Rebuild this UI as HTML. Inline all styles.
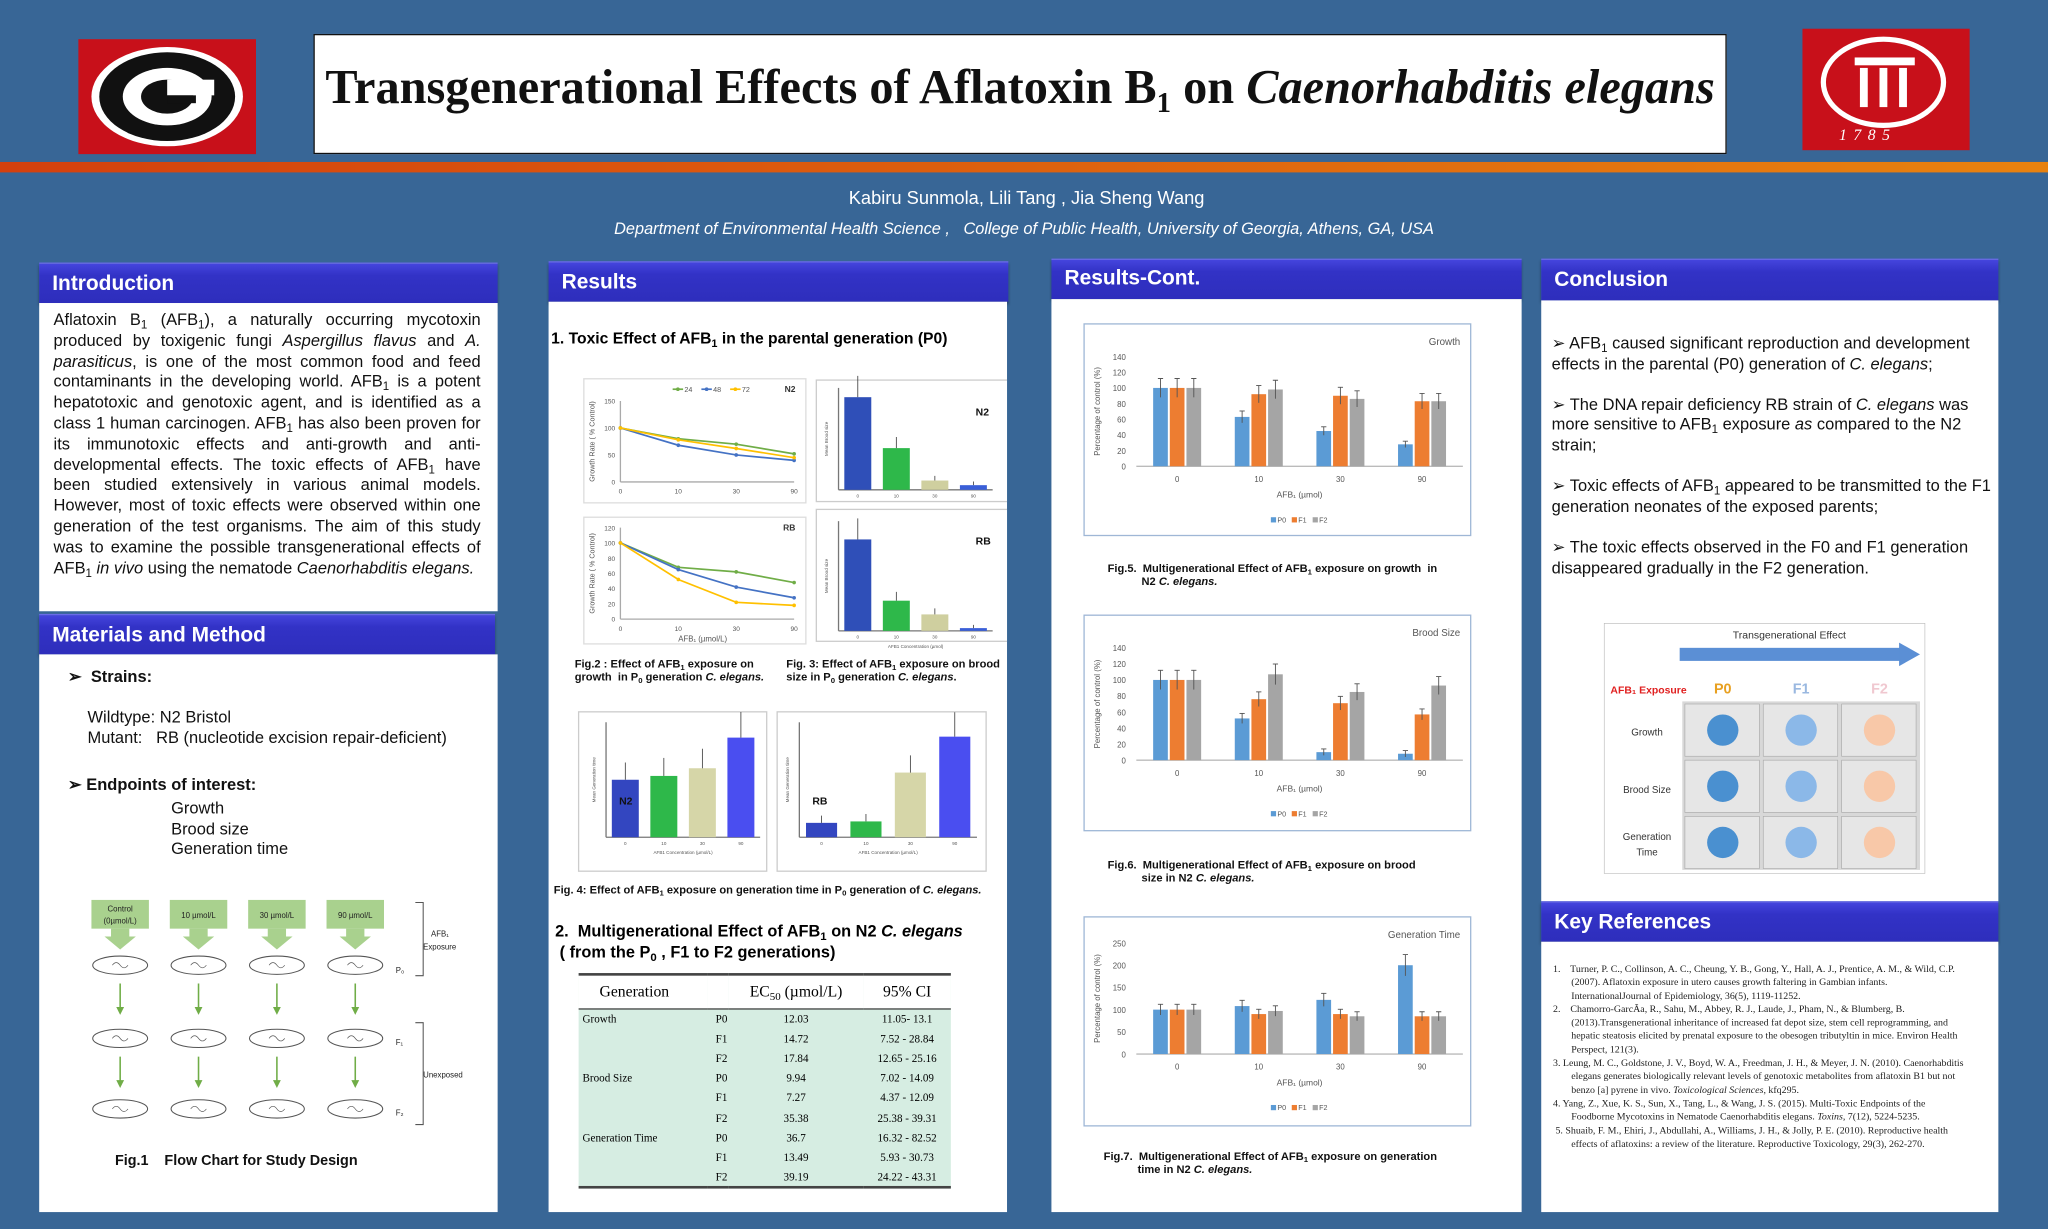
<!DOCTYPE html>
<html><head><meta charset="utf-8">
<style>
html,body{margin:0;padding:0;width:2048px;height:1229px;overflow:hidden;background:#386696;}
#poster{position:absolute;left:0;top:0;width:1568px;height:941px;transform:scale(1.306122);transform-origin:0 0;background:#386696;font-family:"Liberation Sans",sans-serif;}
.abs{position:absolute;}
sub{font-size:0.7em;line-height:0;vertical-align:-0.3em;}
.hdr{position:absolute;background:linear-gradient(#4545dd,#3232c6 30%,#2e2ebc);color:#fff;font-weight:bold;font-size:16px;padding-left:10px;box-sizing:border-box;border-top:1px solid #6a6ae8;box-shadow:0 2px 2px rgba(0,0,0,.35);}
.panel{position:absolute;background:#fff;}
.txt{font-size:12.6px;line-height:15.8px;color:#111;}
.cap{font-size:8.5px;font-weight:bold;color:#111;}
.bul{font-size:12.6px;line-height:15.6px;color:#111;}
table{border-collapse:collapse;}
</style></head>
<body>
<div id="poster">
 <div class="abs" style="left:60px;top:30px;width:136px;height:88px;background:#c8101a;">
  <div style="position:absolute;left:10px;top:6px;width:116px;height:76px;border-radius:50%;background:#fff;"></div>
  <div style="position:absolute;left:16px;top:10px;width:104px;height:68px;border-radius:50%;background:#111;"></div>
  <div style="position:absolute;left:34px;top:22px;width:68px;height:44px;border-radius:50%;background:#fff;"></div>
  <div style="position:absolute;left:48px;top:31px;width:40px;height:26px;border-radius:50%;background:#111;"></div>
  <div style="position:absolute;left:68px;top:31px;width:36px;height:12px;background:#fff;"></div>
  <div style="position:absolute;left:68px;top:43px;width:22px;height:6px;background:#111;"></div>
 </div>
 <div class="abs" style="left:240px;top:26px;width:1082px;height:92px;background:#fff;border:1.5px solid #111;box-sizing:border-box;text-align:center;">
  <div style="font-family:'Liberation Serif',serif;font-weight:bold;font-size:37px;line-height:82px;color:#111;white-space:nowrap;">Transgenerational Effects of Aflatoxin B<sub style="font-size:22px">1</sub> on <i>Caenorhabditis elegans</i></div>
 </div>
 <div class="abs" style="left:1380px;top:22px;width:128px;height:93px;background:#c8101a;">
  <div style="position:absolute;left:14px;top:6px;width:96px;height:70px;border-radius:50%;border:4px solid #fff;box-sizing:border-box;"></div>
  <div style="position:absolute;left:40px;top:22px;width:46px;height:6px;background:#fff;"></div>
  <div style="position:absolute;left:44px;top:30px;width:6px;height:30px;background:#fff;"></div>
  <div style="position:absolute;left:59px;top:30px;width:6px;height:30px;background:#fff;"></div>
  <div style="position:absolute;left:74px;top:30px;width:6px;height:30px;background:#fff;"></div>
  <div style="position:absolute;left:28px;top:74px;width:80px;color:#fff;font-family:'Liberation Serif',serif;font-style:italic;font-size:12px;letter-spacing:5px;">1785</div>
 </div>
 <div class="abs" style="left:0;top:124px;width:1568px;height:8px;background:linear-gradient(90deg,#d4400e,#e8820f);"></div>
 <div class="abs" style="left:0;top:143px;width:1572px;text-align:center;color:#fff;font-size:14px;">Kabiru Sunmola, Lili Tang , Jia Sheng Wang</div>
 <div class="abs" style="left:0;top:168px;width:1568px;text-align:center;color:#fff;font-size:12.5px;font-style:italic;">Department of Environmental Health Science ,&nbsp;&nbsp; College of Public Health, University of Georgia, Athens, GA, USA</div>

 <!-- Column 1 -->
 <div class="hdr" style="left:30px;top:201px;width:351px;height:31px;line-height:31px;">Introduction</div>
 <div class="panel" style="left:30px;top:232px;width:351px;height:236px;">
  <div class="txt" style="position:absolute;left:11px;top:6px;width:327px;text-align:justify;">Aflatoxin B<sub>1</sub> (AFB<sub>1</sub>), a naturally occurring mycotoxin produced by toxigenic fungi <i>Aspergillus flavus</i> and <i>A. parasiticus</i>, is one of the most common food and feed contaminants in the developing world. AFB<sub>1</sub> is a potent hepatotoxic and genotoxic agent, and is identified as a class 1 human carcinogen. AFB<sub>1</sub> has also been proven for its immunotoxic effects and anti-growth and anti-developmental effects. The toxic effects of AFB<sub>1</sub> have been studied extensively in various animal models. However, most of toxic effects were observed within one generation of the test organisms. The aim of this study was to examine the possible transgenerational effects of AFB<sub>1</sub> <i>in vivo</i> using the nematode <i>Caenorhabditis elegans.</i></div>
 </div>
 <div class="hdr" style="left:30px;top:470px;width:349px;height:31px;line-height:31px;">Materials and Method</div>
 <div class="panel" style="left:30px;top:501px;width:351px;height:427px;">
  <div class="bul" style="position:absolute;left:22px;top:10px;font-weight:bold;">➢&nbsp; Strains:</div>
  <div class="bul" style="position:absolute;left:37px;top:41px;">Wildtype: N2 Bristol<br>Mutant:&nbsp;&nbsp; RB (nucleotide excision repair-deficient)</div>
  <div class="bul" style="position:absolute;left:22px;top:93px;font-weight:bold;">➢ Endpoints of interest:</div>
  <div class="bul" style="position:absolute;left:101px;top:111px;">Growth<br>Brood size<br>Generation time</div>
  <svg id="flow" style="position:absolute;left:0;top:180px;" width="351" height="220"></svg>
  <div class="cap" style="position:absolute;left:58px;top:382px;font-size:11px;">Fig.1&nbsp;&nbsp;&nbsp;&nbsp;Flow Chart for Study Design</div>
 </div>

 <!-- Column 2 -->
 <div class="hdr" style="left:420px;top:200px;width:352px;height:31px;line-height:31px;">Results</div>
 <div class="panel" style="left:420px;top:231px;width:351px;height:697px;">
  <div style="position:absolute;left:2px;top:21px;font-size:12px;font-weight:bold;">1. Toxic Effect of AFB<sub>1</sub> in the parental generation (P0)</div>
  <svg id="c2" style="position:absolute;left:0;top:0;" width="351" height="697"></svg>
  <div class="cap" style="position:absolute;left:20px;top:272px;width:160px;">Fig.2 : Effect of AFB<sub>1</sub> exposure on growth&nbsp; in P<sub>0</sub> generation <i>C. elegans.</i></div>
  <div class="cap" style="position:absolute;left:182px;top:272px;width:168px;">Fig. 3: Effect of AFB<sub>1</sub> exposure on brood size in P<sub>0</sub> generation <i>C. elegans</i>.</div>
  <div class="cap" style="position:absolute;left:4px;top:445px;">Fig. 4: Effect of AFB<sub>1</sub> exposure on generation time in P<sub>0</sub> generation of <i>C. elegans.</i></div>
  <div style="position:absolute;left:5px;top:474px;font-size:12.5px;font-weight:bold;line-height:16px;">2.&nbsp; Multigenerational Effect of AFB<sub>1</sub> on N2 <i>C. elegans</i><br>&nbsp;( from the P<sub>0</sub> , F1 to F2 generations)</div>
  <table style="position:absolute;left:23px;top:514px;width:285px;font-family:'Liberation Serif',serif;font-size:8.5px;background:#d6ede2;">
   <tr style="height:26px;background:#fff;border-top:2px solid #444;border-bottom:1px solid #444;font-size:12px;"><td style="padding-left:16px">Generation</td><td></td><td style="text-align:center">EC<sub>50</sub> (µmol/L)</td><td style="text-align:center">95% CI</td></tr>
   <tr style="height:15.2px"><td style="padding-left:3px">Growth</td><td style="text-align:right">P0</td><td style="text-align:center">12.03</td><td style="text-align:center">11.05- 13.1</td></tr>
   <tr style="height:15.2px"><td></td><td style="text-align:right">F1</td><td style="text-align:center">14.72</td><td style="text-align:center">7.52 - 28.84</td></tr>
   <tr style="height:15.2px"><td></td><td style="text-align:right">F2</td><td style="text-align:center">17.84</td><td style="text-align:center">12.65 - 25.16</td></tr>
   <tr style="height:15.2px"><td style="padding-left:3px">Brood Size</td><td style="text-align:right">P0</td><td style="text-align:center">9.94</td><td style="text-align:center">7.02 - 14.09</td></tr>
   <tr style="height:15.2px"><td></td><td style="text-align:right">F1</td><td style="text-align:center">7.27</td><td style="text-align:center">4.37 - 12.09</td></tr>
   <tr style="height:15.2px"><td></td><td style="text-align:right">F2</td><td style="text-align:center">35.38</td><td style="text-align:center">25.38 - 39.31</td></tr>
   <tr style="height:15.2px"><td style="padding-left:3px">Generation Time</td><td style="text-align:right">P0</td><td style="text-align:center">36.7</td><td style="text-align:center">16.32 - 82.52</td></tr>
   <tr style="height:15.2px"><td></td><td style="text-align:right">F1</td><td style="text-align:center">13.49</td><td style="text-align:center">5.93 - 30.73</td></tr>
   <tr style="height:15.2px;border-bottom:2px solid #444;"><td></td><td style="text-align:right">F2</td><td style="text-align:center">39.19</td><td style="text-align:center">24.22 - 43.31</td></tr>
  </table>
 </div>

 <!-- Column 3 -->
 <div class="hdr" style="left:805px;top:198px;width:360px;height:31px;line-height:30px;">Results-Cont.</div>
 <div class="panel" style="left:805px;top:229px;width:360px;height:699px;">
  <svg id="c3" style="position:absolute;left:0;top:0;" width="360" height="699"></svg>
  <div class="cap" style="position:absolute;left:43px;top:201px;">Fig.5.&nbsp; Multigenerational Effect of AFB<sub>1</sub> exposure on growth&nbsp; in<br>&nbsp;&nbsp;&nbsp;&nbsp;&nbsp;&nbsp;&nbsp;&nbsp;&nbsp;&nbsp; N2 <i>C. elegans.</i></div>
  <div class="cap" style="position:absolute;left:43px;top:428px;">Fig.6.&nbsp; Multigenerational Effect of AFB<sub>1</sub> exposure on brood<br>&nbsp;&nbsp;&nbsp;&nbsp;&nbsp;&nbsp;&nbsp;&nbsp;&nbsp;&nbsp; size in N2 <i>C. elegans.</i></div>
  <div class="cap" style="position:absolute;left:40px;top:651px;">Fig.7.&nbsp; Multigenerational Effect of AFB<sub>1</sub> exposure on generation<br>&nbsp;&nbsp;&nbsp;&nbsp;&nbsp;&nbsp;&nbsp;&nbsp;&nbsp;&nbsp; time in N2 <i>C. elegans.</i></div>
 </div>

 <!-- Column 4 -->
 <div class="hdr" style="left:1180px;top:198px;width:350px;height:32px;line-height:32px;">Conclusion</div>
 <div class="panel" style="left:1180px;top:230px;width:350px;height:460px;">
  <div class="bul" style="position:absolute;left:8px;top:26px;width:340px;">➢ AFB<sub>1</sub> caused significant reproduction and development effects in the parental (P0) generation of <i>C. elegans</i>;<br><br>➢ The DNA repair deficiency RB strain of <i>C. elegans</i> was more sensitive to AFB<sub>1</sub> exposure <i>as</i> compared to the N2 strain;<br><br>➢ Toxic effects of AFB<sub>1</sub> appeared to be transmitted to the F1 generation neonates of the exposed parents;<br><br>➢ The toxic effects observed in the F0 and F1 generation disappeared gradually in the F2 generation.</div>
  <svg id="c4" style="position:absolute;left:48px;top:247px;" width="246" height="192"></svg>
 </div>
 <div class="hdr" style="left:1180px;top:690px;width:350px;height:31px;line-height:31px;">Key References</div>
 <div class="panel" style="left:1180px;top:721px;width:350px;height:207px;">
  <div style="position:absolute;left:9px;top:16px;width:318px;font-family:'Liberation Serif',serif;font-size:7.6px;line-height:10.3px;color:#222;">
   <div style="padding-left:14px;text-indent:-14px;">1.&nbsp;&nbsp;&nbsp; Turner, P. C., Collinson, A. C., Cheung, Y. B., Gong, Y., Hall, A. J., Prentice, A. M., &amp; Wild, C.P. (2007). Aflatoxin exposure in utero causes growth faltering in Gambian infants. InternationalJournal of Epidemiology, 36(5), 1119-11252.</div>
   <div style="padding-left:14px;text-indent:-14px;">2.&nbsp;&nbsp;&nbsp; Chamorro-GarcÃa, R., Sahu, M., Abbey, R. J., Laude, J., Pham, N., &amp; Blumberg, B. (2013).Transgenerational inheritance of increased fat depot size, stem cell reprogramming, and hepatic steatosis elicited by prenatal exposure to the obesogen tributyltin in mice. Environ Health Perspect, 121(3).</div>
   <div style="padding-left:14px;text-indent:-14px;">3. Leung, M. C., Goldstone, J. V., Boyd, W. A., Freedman, J. H., &amp; Meyer, J. N. (2010). Caenorhabditis elegans generates biologically relevant levels of genotoxic metabolites from aflatoxin B1 but not benzo [a] pyrene in vivo. <i>Toxicological Sciences</i>, kfq295.</div>
   <div style="padding-left:14px;text-indent:-14px;">4. Yang, Z., Xue, K. S., Sun, X., Tang, L., &amp; Wang, J. S. (2015). Multi-Toxic Endpoints of the Foodborne Mycotoxins in Nematode Caenorhabditis elegans. <i>Toxins</i>, 7(12), 5224-5235.</div>
   <div style="padding-left:14px;text-indent:-14px;">&nbsp;5. Shuaib, F. M., Ehiri, J., Abdullahi, A., Williams, J. H., &amp; Jolly, P. E. (2010). Reproductive health effects of aflatoxins: a review of the literature. Reproductive Toxicology, 29(3), 262-270.</div>
  </div>
 </div>
</div>

<script>
// ---- Data ----
const doseCats = ["0","10","30","90"];
const fig5P0 = [100,63,45,28], fig5F1 = [100,92,90,83], fig5F2 = [100,98,86,83];
const fig6P0 = [100,52,10,8], fig6F1 = [100,76,71,57], fig6F2 = [100,107,85,93];
const fig7P0 = [100,108,122,200], fig7F1 = [100,90,90,85], fig7F2 = [100,97,85,85];
const fig5Ticks = [0,20,40,60,80,100,120,140];
const fig7Ticks = [0,50,100,150,200,250];
const n2Line24 = [100,80,70,52], n2Line48 = [100,68,50,40], n2Line72 = [100,78,62,45];
const rbLine24 = [100,68,62,48], rbLine48 = [100,65,42,28], rbLine72 = [100,52,22,18];
const n2Ticks = [0,50,100,150], rbTicks = [0,20,40,60,80,100,120];
const n2Brood = [100,45,10,5], rbBrood = [100,33,18,3];
const n2GenTime = [30,32,36,52], rbGenTime = [10,11,45,70];
const transRows = ["Growth","Brood Size","Generation Time"];
const transCols = ["P0","F1","F2"];

const NS="http://www.w3.org/2000/svg";
function el(p,t,a){const e=document.createElementNS(NS,t);for(const k in a)e.setAttribute(k,a[k]);p.appendChild(e);return e;}
function tx(p,x,y,s,size,extra){const e=el(p,'text',Object.assign({x:x,y:y,'font-size':size,'font-family':'Liberation Sans, sans-serif',fill:'#555'},extra||{}));e.textContent=s;return e;}

function groupedBars(svg,name,bx,by,bw,bh,title,series,ticks,ymax,px,py,pw,ph){
 const box=el(svg,'rect',{x:bx,y:by,width:bw,height:bh,fill:'#fff',stroke:'#9fb7d6','stroke-width':1});
 
 
 tx(svg,bx+bw-8,by+16,title,7.5,{'text-anchor':'end'});
 const ys=v=>py+ph-v/ymax*ph;
 ticks.forEach(t=>{tx(svg,px-8,ys(t)+2.5,String(t),6,{'text-anchor':'end'});});
 el(svg,'line',{x1:px,y1:py+ph,x2:px+pw,y2:py+ph,stroke:'#bbb'});
 const cols=['#5b9bd5','#ed7d31','#a5a5a5'];const labs=['P0','F1','F2'];
 const gw=pw/doseCats.length, barW=gw*0.18;
 doseCats.forEach((c,i)=>{
  const cx=px+gw*(i+0.5);
  tx(svg,cx,py+ph+12,c,6,{'text-anchor':'middle'});
  series.forEach((s,j)=>{
   const x=cx+(j-1.5)*barW+ (j*1.5-1.5);
   const r=el(svg,'rect',{x:x,y:ys(s[i]),width:barW,height:py+ph-ys(s[i]),fill:cols[j]});
   
   
   const e=Math.max(4,s[i]*0.12);
   el(svg,'line',{x1:x+barW/2,y1:ys(s[i]+e),x2:x+barW/2,y2:ys(Math.max(0,s[i]-e)),stroke:'#555','stroke-width':0.7});
   el(svg,'line',{x1:x+barW/2-2,y1:ys(s[i]+e),x2:x+barW/2+2,y2:ys(s[i]+e),stroke:'#555','stroke-width':0.7});
  });
 });
 tx(svg,px+pw/2,py+ph+24,'AFB₁ (µmol)',6.5,{'text-anchor':'middle'});
 tx(svg,0,0,'Percentage of control (%)',6,{'text-anchor':'middle',transform:`translate(${bx+12},${py+ph/2}) rotate(-90)`});
 labs.forEach((l,j)=>{const lx=px+pw/2-22+j*16;el(svg,'rect',{x:lx,y:py+ph+39,width:4,height:4,fill:cols[j]});tx(svg,lx+5,py+ph+43,l,5.5);});
}
const c3=document.getElementById('c3');
groupedBars(c3,'fig5-growth',25,19,296,162,'Growth',[fig5P0,fig5F1,fig5F2],fig5Ticks,140,65,44,250,84);
groupedBars(c3,'fig6-brood',25,242,296,165,'Brood Size',[fig6P0,fig6F1,fig6F2],fig5Ticks,140,65,267,250,86);
groupedBars(c3,'fig7-gentime',25,473,296,160,'Generation Time',[fig7P0,fig7F1,fig7F2],fig7Ticks,250,65,493,250,85);

// Column 2 line charts
const c2=document.getElementById('c2');
function lineChart(name,bx,by,bw,bh,label,lines,ticks,ymax,px,py,pw,ph,legend){
 el(c2,'rect',{x:bx,y:by,width:bw,height:bh,fill:'#fff',stroke:'#ddd'});
 const ys=v=>py+ph-v/ymax*ph;
 const xs=i=>px+pw*i/(doseCats.length-1);
 ticks.forEach(t=>tx(c2,px-4,ys(t)+2,String(t),5,{'text-anchor':'end'}));
 el(c2,'line',{x1:px,y1:py+ph,x2:px+pw,y2:py+ph,stroke:'#aaa'});
 el(c2,'line',{x1:px,y1:py,x2:px,y2:py+ph,stroke:'#aaa'});
 doseCats.forEach((c,i)=>tx(c2,xs(i),py+ph+9,c,5,{'text-anchor':'middle'}));
 tx(c2,bx+bw-8,by+10,label,6.5,{'text-anchor':'end','font-weight':'bold',fill:'#333'});
 tx(c2,0,0,'Growth Rate ( % Control)',5.5,{'text-anchor':'middle',transform:`translate(${px-20},${py+ph/2}) rotate(-90)`});
 const cols=['#70ad47','#4472c4','#ffc000'];const ln=['24','48','72'];
 lines.forEach((s,j)=>{
  const p=el(c2,'polyline',{points:s.map((v,i)=>xs(i)+','+ys(v)).join(' '),fill:'none',stroke:cols[j],'stroke-width':1.3});
  
  
  s.forEach((v,i)=>el(c2,'circle',{cx:xs(i),cy:ys(v),r:1.4,fill:cols[j]}));
 });
 if(legend){ln.forEach((l,j)=>{const lx=px+40+j*22;el(c2,'line',{x1:lx,y1:by+8,x2:lx+8,y2:by+8,stroke:cols[j],'stroke-width':1.3});el(c2,'circle',{cx:lx+4,cy:by+8,r:1.4,fill:cols[j]});tx(c2,lx+9,by+10,l,5.5);});}
}
lineChart('fig2-n2',27,59,170,95,'N2',[n2Line24,n2Line48,n2Line72],n2Ticks,150,55,76,133,62,true);
lineChart('fig2-rb',27,165,170,97,'RB',[rbLine24,rbLine48,rbLine72],rbTicks,120,55,173,133,70,false);
tx(c2,118,260,'AFB₁ (µmol/L)',6,{'text-anchor':'middle'});

function simpleBars(name,bx,by,bw,bh,label,vals,ymax,cols,px,py,pw,ph,labelLeft,axisLabel,xLabel){
 el(c2,'rect',{x:bx,y:by,width:bw,height:bh,fill:'#fff',stroke:'#ccc'});
 const ys=v=>py+ph-v/ymax*ph;
 el(c2,'line',{x1:px,y1:py+ph,x2:px+pw,y2:py+ph,stroke:'#777'});
 el(c2,'line',{x1:px,y1:py,x2:px,y2:py+ph,stroke:'#777'});
 const gw=pw/vals.length;
 vals.forEach((v,i)=>{
  const x=px+gw*i+gw*0.15;
  const r=el(c2,'rect',{x:x,y:ys(v),width:gw*0.7,height:py+ph-ys(v),fill:cols[i]});
  
  
  el(c2,'line',{x1:x+gw*0.35,y1:ys(v*1.2+3),x2:x+gw*0.35,y2:ys(v),stroke:'#333','stroke-width':0.6});
  tx(c2,x+gw*0.35,py+ph+6,doseCats[i],3.5,{'text-anchor':'middle'});
 });
 tx(c2,labelLeft?px+10:bx+bw-28,labelLeft?py+ph-25:by+27,label,8,{'font-weight':'bold',fill:'#111'});
 tx(c2,0,0,axisLabel,3.5,{'text-anchor':'middle',transform:`translate(${px-8},${py+ph/2}) rotate(-90)`});
 tx(c2,px+pw/2,py+ph+13,xLabel,3.5,{'text-anchor':'middle'});
}
const broodCols=['#2f4fb8','#2eb84a','#cfcf9f','#3a5fd8'];
simpleBars('fig3-n2',205,60,150,93,'N2',n2Brood,110,broodCols,222,66,118,78,false,'Mean Brood size','');
simpleBars('fig3-rb',205,159,150,101,'RB',rbBrood,120,broodCols,222,168,118,84,false,'Mean Brood size','AFB1 Concentration (µmol)');
const genCols=['#3346c0','#2eb84a','#d6d6a8','#4a4ef0'];
simpleBars('fig4-n2',23,314,144,122,'N2',n2GenTime,60,genCols,44,322,118,88,true,'Mean Generation time','AFB1 Concentration (µmol/L)');
simpleBars('fig4-rb',175,314,160,122,'RB',rbGenTime,80,genCols,192,322,136,88,true,'Mean Generation time','AFB1 Concentration (µmol/L)');

// Column 4 transgenerational
const c4=document.getElementById('c4');
el(c4,'rect',{x:0,y:0,width:246,height:192,fill:'#fff',stroke:'#bbb'});
tx(c4,142,12,'Transgenerational Effect',8,{'text-anchor':'middle',fill:'#333'});
el(c4,'rect',{x:58,y:19,width:170,height:10,fill:'#5b8fd5'});
el(c4,'polygon',{points:'226,15 242,24 226,33',fill:'#5b8fd5'});
tx(c4,5,54,'AFB₁ Exposure',8,{fill:'#e02020','font-weight':'bold'});
const colColors=[['#e8a020','#4a90d0'],['#9ab8e0','#8bb4e4'],['#f0c8d0','#f8c8a8']];
const dotCols=[['#4a90d0','#4a90d0','#4a90d0'],['#8bb8e8','#8bb8e8','#8bb8e8'],['#f8c8a8','#f8c8a8','#f8c8a8']];
transCols.forEach((c,j)=>tx(c4,91+j*60,54,c,11,{'text-anchor':'middle',fill:colColors[j][0],'font-weight':'bold'}));
el(c4,'rect',{x:60,y:60,width:182,height:129,fill:'#d8d8d8'});
transRows.forEach((r,i)=>{
 if(r==='Generation Time'){tx(c4,33,166,'Generation',7.5,{'text-anchor':'middle',fill:'#333'});tx(c4,33,178,'Time',7.5,{'text-anchor':'middle',fill:'#333'});}
 else tx(c4,33,86+i*44,r,7.5,{'text-anchor':'middle',fill:'#333'});
 transCols.forEach((c,j)=>{
  el(c4,'rect',{x:62+j*60,y:62+i*43,width:57,height:40,fill:'#e6e6e6',stroke:'#aaa','stroke-width':0.5});
  const d=el(c4,'circle',{cx:91+j*60,cy:82+i*43,r:12,fill:dotCols[j][i]});
  
  
 });
});

// Flow chart
const fl=document.getElementById('flow');
const doses=["Control (0µmol/L)","10 µmol/L","30 µmol/L","90 µmol/L"];
doses.forEach((d,i)=>{
 const cx=62+i*60;
 el(fl,'rect',{x:cx-22,y:8,width:44,height:22,fill:'#a9d18e'});
 if(i===0){tx(fl,cx,17,'Control',6,{'text-anchor':'middle',fill:'#222'});tx(fl,cx,26,'(0µmol/L)',6,{'text-anchor':'middle',fill:'#222'});}
 else tx(fl,cx,22,d,6,{'text-anchor':'middle',fill:'#222'});
 el(fl,'polygon',{points:`${cx-7},30 ${cx+7},30 ${cx+7},36 ${cx+12},36 ${cx},46 ${cx-12},36 ${cx-7},36`,fill:'#a9d18e'});
 [58,114,168].forEach((y,k)=>{
  el(fl,'ellipse',{cx:cx,cy:y,rx:21,ry:7,fill:'#fff',stroke:'#555','stroke-width':0.8});
  el(fl,'path',{d:`M${cx-6},${y} q3,-4 6,0 t6,0`,fill:'none',stroke:'#555','stroke-width':0.5});
  if(k<2){el(fl,'line',{x1:cx,y1:y+14,x2:cx,y2:y+34,stroke:'#70ad47','stroke-width':1.2});el(fl,'polygon',{points:`${cx-3},${y+32} ${cx+3},${y+32} ${cx},${y+38}`,fill:'#70ad47'});}
 });
});
el(fl,'path',{d:'M288,10 h6 v56 h-6',fill:'none',stroke:'#555','stroke-width':0.8});
tx(fl,300,36,'AFB₁',6,{fill:'#222'});tx(fl,294,46,'Exposure',6,{fill:'#222'});
tx(fl,273,64,'P₀',6,{fill:'#222'});tx(fl,273,119,'F₁',6,{fill:'#222'});tx(fl,273,173,'F₂',6,{fill:'#222'});
el(fl,'path',{d:'M288,102 h6 v78 h-6',fill:'none',stroke:'#555','stroke-width':0.8});
tx(fl,294,144,'Unexposed',6,{fill:'#222'});
</script>
</body></html>
